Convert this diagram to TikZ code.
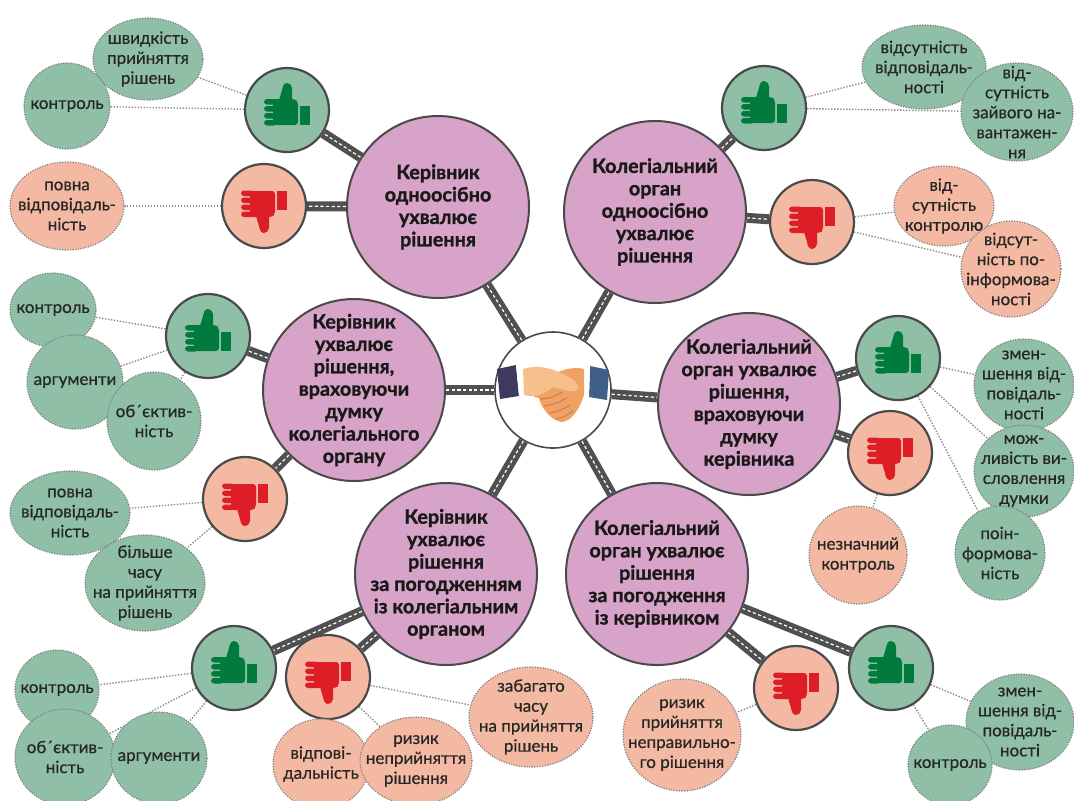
\documentclass[tikz,border=0pt]{standalone}
\usepackage{fontspec}
\setmainfont{Lato}[BoldFeatures={FakeBold=1.2}]
\newfontfamily\notefont{Lato}[FakeBold=0.6]
\usetikzlibrary{shapes.geometric, backgrounds}

\definecolor{optionpink}{HTML}{D8A3C8}
\definecolor{progreen}{HTML}{8FBFA6}
\definecolor{conpeach}{HTML}{F3B9A3}
\definecolor{edgegray}{HTML}{4A4A4A}
\definecolor{roadgray}{HTML}{505050}
\definecolor{iconred}{HTML}{DD1E26}
\definecolor{icongreen}{HTML}{007A3D}
\definecolor{skin}{HTML}{F0A264}
\definecolor{skinlight}{HTML}{F7BF8C}
\definecolor{skindark}{HTML}{D2834B}
\definecolor{sleeveleft}{HTML}{3D3A5E}
\definecolor{sleeveright}{HTML}{3F5F8A}

% thumb icon at the origin, thumb pointing to -y
\newcommand{\thumbicon}[1]{%
  \fill[#1] (13,-4) rectangle (23,15);
  \fill[#1, rounded corners=1.5] (-14,-11) -- (8,-11) -- (11,-8) -- (11,15) -- (-14,15) -- cycle;
  \foreach \fy in {-11,-4,3,10}
    \fill[#1, rounded corners=1.5] (-23,\fy) rectangle (-10,\fy+5.5);
  \fill[#1] (-8,-10) -- (-5,-20) to[out=80,in=180] (0,-27) to[out=0,in=100] (5,-22) -- (5,-10) -- cycle;
}

\begin{document}
\begin{tikzpicture}[x=0.5pt, y=-0.5pt,
    hub/.style={circle, draw=edgegray, line width=0.8pt, fill=white, minimum size=58pt, inner sep=0pt},
    option/.style={circle, draw=edgegray, line width=1pt, fill=optionpink, minimum size=91pt, inner sep=-14pt, align=center, text=black!90, font=\fontsize{9.9}{11.2}\selectfont\bfseries},
    pro/.style={circle, draw=edgegray, line width=1.1pt, fill=progreen, minimum size=42pt},
    con/.style={pro, fill=conpeach},
    note/.style={ellipse, draw=black!50, line width=0.6pt, dash pattern=on 0.6pt off 0.7pt, inner sep=-14pt, align=center, text=black!85, font=\notefont\fontsize{8.5}{10}\selectfont},
    plusnote/.style={note, fill=progreen},
    minusnote/.style={note, fill=conpeach},
    oval/.style 2 args={minimum width=#1pt, minimum height=#2pt},
    road/.style={line width=5pt, draw=roadgray, postaction={draw=white, line width=0.6pt, dash pattern=on 1.6pt off 1.2pt}},
    link/.style={draw=black!45, line width=0.7pt, dash pattern=on 0.7pt off 0.8pt}
  ]
  \useasboundingbox (0,0) rectangle (1074,800);
  \clip (0,0) rectangle (1074,800);

  % centre and the six ways of deciding
  \node[hub] (hub) at (553,390) {};
  \node[option] (m1) at (438,207) {Керівник\\одноосібно\\ухвалює\\рішення};
  \node[option] (m2) at (655,212) {Колегіальний\\орган\\одноосібно\\ухвалює\\рішення};
  \node[option] (m3) at (354,390) {Керівник\\ухвалює\\рішення,\\враховуючи\\думку\\колегіального\\органу};
  \node[option] (m4) at (749,404) {Колегіальний\\орган ухвалює\\рішення,\\враховуючи\\думку\\керівника};
  \node[option] (m5) at (446,574) {Керівник\\ухвалює\\рішення\\за погодженням\\із колегіальним\\органом};
  \node[option] (m6) at (657,574) {Колегіальний\\орган ухвалює\\рішення\\за погодження\\із керівником};

  % pros and cons
  \node[pro] (u1) at (287,110) {};
  \node[con] (d1) at (264,206) {};
  \node[pro] (u2) at (764,108) {};
  \node[con] (d2) at (812,222) {};
  \node[pro] (u3) at (208,336) {};
  \node[con] (d3) at (245,499) {};
  \node[pro] (u4) at (898,358) {};
  \node[con] (d4) at (890,453) {};
  \node[pro] (u5) at (234,668) {};
  \node[con] (d5) at (328,677) {};
  \node[con] (d6) at (796,688) {};
  \node[pro] (u6) at (891,668) {};

  % notes
  \node[plusnote, oval={55}{41}] (b1a) at (148,59) {швидкість\\прийняття\\рішень};
  \node[plusnote, oval={43}{43}] (b1b) at (67,106) {контроль};
  \node[minusnote, oval={57}{44}] (b1c) at (67,206) {повна\\відповідаль-\\ність};

  \node[plusnote, oval={62}{42}] (b2a) at (924,67) {відсутність\\відповідаль-\\ності};
  \node[plusnote, oval={56}{49}] (b2b) at (1017,112) {від-\\сутність\\зайвого на-\\вантажен-\\ня};
  \node[minusnote, oval={50}{40}] (b2c) at (944,206) {від-\\сутність\\контролю};
  \node[minusnote, oval={50}{48}] (b2d) at (1011,269) {відсут-\\ність по-\\інформова-\\ності};

  \node[plusnote, oval={43}{37}] (b3a) at (53,310) {контроль};
  \node[plusnote, oval={48}{47}] (b3b) at (75,382) {аргументи};
  \node[plusnote, oval={47}{49}] (b3c) at (154,421) {об´єктив-\\ність};
  \node[plusnote, oval={60}{42}] (b3d) at (70,513) {повна\\відповідаль-\\ність};
  \node[plusnote, oval={60}{48}] (b3e) at (145,583) {більше\\часу\\на прийняття\\рішень};

  \node[plusnote, oval={50}{46}] (b4a) at (1024,385) {змен-\\шення від-\\повідаль-\\ності};
  \node[plusnote, oval={50}{46}] (b4b) at (1024,471) {мож-\\ливість ви-\\словлення\\думки};
  \node[plusnote, oval={45}{47}] (b4c) at (1000,553) {поін-\\формова-\\ність};
  \node[minusnote, oval={49}{49}] (b4d) at (858,555) {незначний\\контроль};

  \node[plusnote, oval={42}{40}] (b5a) at (57,690) {контроль};
  \node[plusnote, oval={50}{48}] (b5b) at (65,757) {об´єктив-\\ність};
  \node[plusnote, oval={48}{46}] (b5c) at (159,758) {аргументи};
  \node[minusnote, oval={48}{45}] (b5d) at (321,764) {відпові-\\дальність};
  \node[minusnote, oval={56}{44}] (b5e) at (416,761) {ризик\\неприйняття\\рішення};
  \node[minusnote, oval={62}{50}] (b5f) at (531,717) {забагато\\часу\\на прийняття\\рішень};

  \node[minusnote, oval={59}{56}] (b6a) at (682,735) {ризик\\прийняття\\неправильно-\\го рішення};
  \node[plusnote, oval={54}{48}] (b6b) at (1020,722) {змен-\\шення від-\\повідаль-\\ності};
  \node[plusnote, oval={42}{40}] (b6c) at (950,765) {контроль};

  \begin{scope}[on background layer]
    \fill[white] (0,0) rectangle (1074,800);
    % roads
    \foreach \m in {m1,m2,m3,m4,m5,m6}
      \draw[road] (hub) -- (\m);
    \draw[road] (m1) -- (u1);
    \draw[road] (m1) -- (d1);
    \draw[road] (m2) -- (u2);
    \draw[road] (m2) -- (d2);
    \draw[road] (m3) -- (u3);
    \draw[road] (m3) -- (d3);
    \draw[road] (m4) -- (u4);
    \draw[road] (m4) -- (d4);
    \draw[road] (m5) -- (u5);
    \draw[road] (m5) -- (d5);
    \draw[road] (m6) -- (d6);
    \draw[road] (m6) -- (u6);
    % dotted links to the notes
    \draw[link] (u1) -- (b1a);
    \draw[link] (u1) -- (b1b);
    \draw[link] (d1) -- (b1c);
    \draw[link] (u2) -- (b2a);
    \draw[link] (u2) -- (b2b);
    \draw[link] (d2) -- (b2c);
    \draw[link] (d2) -- (b2d);
    \draw[link] (u3) -- (b3a);
    \draw[link] (u3) -- (b3b);
    \draw[link] (u3) -- (b3c);
    \draw[link] (d3) -- (b3d);
    \draw[link] (d3) -- (b3e);
    \draw[link] (u4) -- (b4a);
    \draw[link] (u4) -- (b4b);
    \draw[link] (u4) -- (b4c);
    \draw[link] (d4) -- (b4d);
    \draw[link] (u5) -- (b5a);
    \draw[link] (u5) -- (b5b);
    \draw[link] (u5) -- (b5c);
    \draw[link] (d5) -- (b5d);
    \draw[link] (d5) -- (b5e);
    \draw[link] (d5) -- (b5f);
    \draw[link] (d6) -- (b6a);
    \draw[link] (u6) -- (b6b);
    \draw[link] (u6) -- (b6c);
  \end{scope}

  % thumbs
  \foreach \t in {u1,u2,u3,u4,u5,u6}
    \begin{scope}[shift={(\t.center)}] \thumbicon{icongreen} \end{scope};
  \foreach \t in {d1,d2,d3,d4,d5,d6}
    \begin{scope}[shift={(\t.center)}, yscale=-1] \thumbicon{iconred} \end{scope};

  % handshake
  \begin{scope}[shift={(hub.center)}]
    \fill[sleeveleft] (-56,-21) -- (-37,-25) -- (-34,6) -- (-53,9) -- cycle;
    \fill[white] (-37,-25) -- (-31,-25) -- (-28,5) -- (-34,6) -- cycle;
    \fill[sleeveright] (37,-24) -- (56,-20) -- (54,10) -- (36,7) -- cycle;
    \fill[white] (31,-23) -- (37,-24) -- (36,7) -- (30,6) -- cycle;
    % hand from the right, fingers wrapped below
    \fill[skin] (31,-21) .. controls (20,-24) and (5,-20) .. (-5,-12) -- (-20,-2) .. controls (-24,2) and (-20,8) .. (-14,8) .. controls (-12,18) and (-2,30) .. (8,32) .. controls (18,32) and (26,20) .. (31,5) -- cycle;
    % hand from the left, on top
    \fill[skinlight] (-30,-21) .. controls (-18,-25) and (-4,-23) .. (8,-17) .. controls (16,-13) and (24,-9) .. (26,-3) .. controls (24,2) and (18,2) .. (12,0) -- (0,-3) .. controls (-8,4) and (-18,8) .. (-29,5) -- cycle;
    \draw[skindark, line width=0.6pt] (-13,9) .. controls (-2,8) .. (10,2) (-9,16) .. controls (2,14) .. (14,8) (-4,23) .. controls (6,21) .. (17,15) (3,29) .. controls (11,27) .. (20,21);
  \end{scope}
\end{tikzpicture}
\end{document}
